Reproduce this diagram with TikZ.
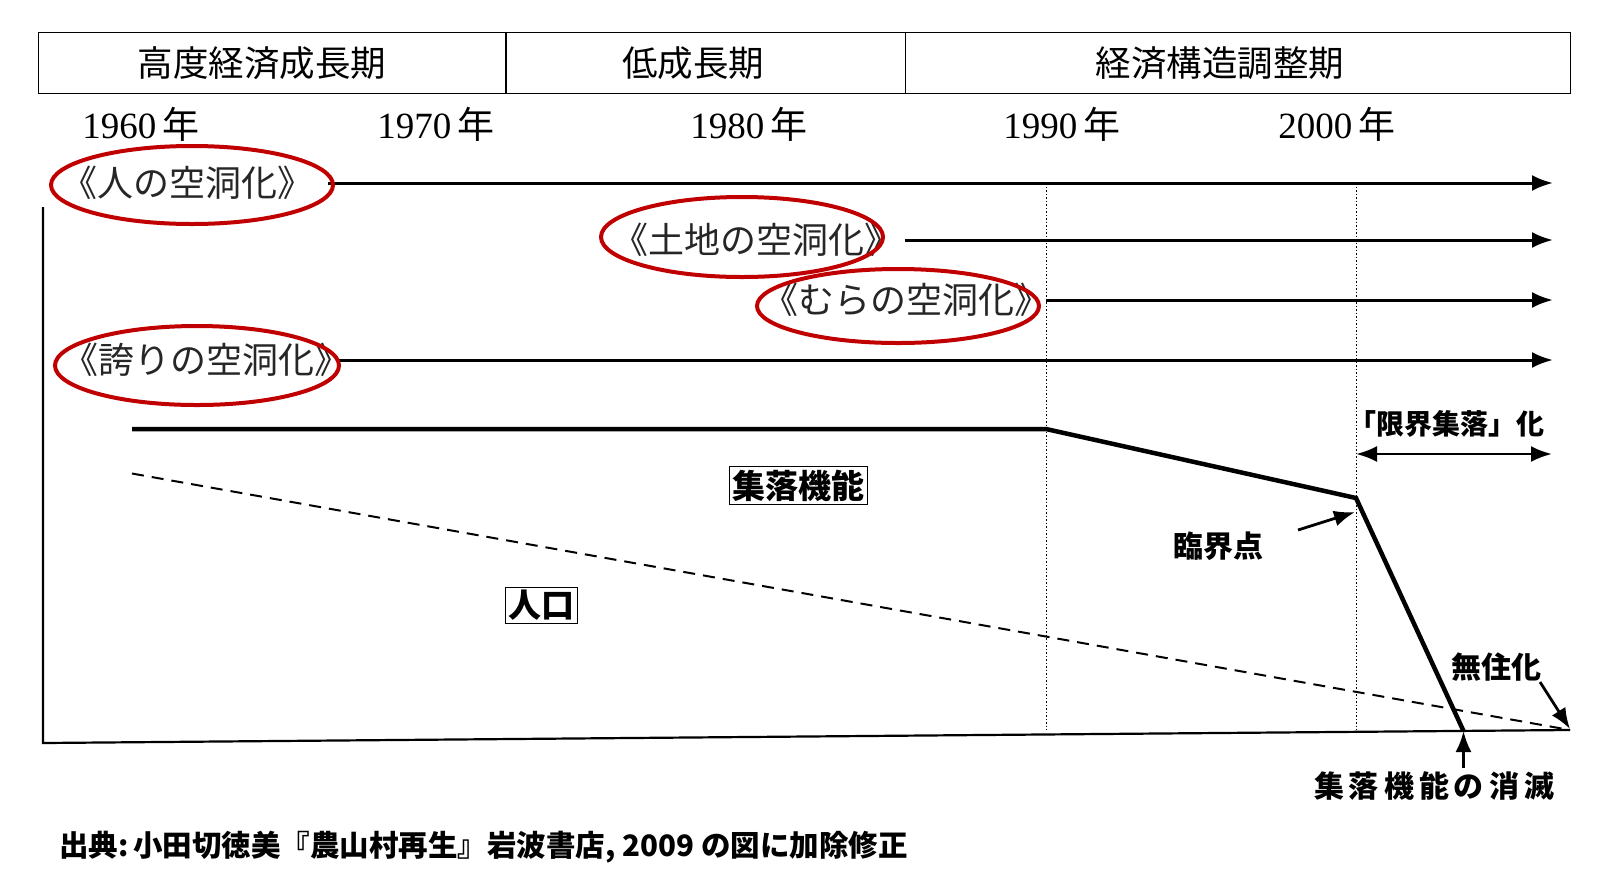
\documentclass[tikz,border=0pt]{standalone}
\usepackage{fontspec}
\newfontfamily\jp{Noto Sans CJK JP}
\newfontfamily\ser{Liberation Serif}
\usetikzlibrary{arrows.meta}
\definecolor{ellred}{HTML}{C00000}
\begin{document}
\begin{tikzpicture}[x=1pt,y=-1pt,
  hdr/.style={font=\jp\fontsize{35.5}{35.5}\selectfont},
  yr/.style={font=\ser\fontsize{37}{37}\selectfont},
  hollow/.style={font=\jp\fontsize{36}{36}\selectfont, text=black!85, inner sep=0pt},
  lbl/.style={font=\jp\bfseries\fontsize{30}{30}\selectfont, inner sep=2pt},
  boxlbl/.style={lbl, font=\jp\bfseries\fontsize{33}{33}\selectfont, draw, line width=1.2pt, inner sep=3pt},
  ell/.style={draw=ellred, line width=4pt},
  rowarr/.style={line width=3pt, -{Latex[length=21pt,width=16pt]}},
  ptr/.style={line width=2.8pt, -{Latex[length=21pt,width=16pt]}},
  dbl/.style={line width=2.8pt, {Latex[length=21pt,width=16pt]}-{Latex[length=21pt,width=16pt]}},
  axis/.style={line width=2.2pt},
  guide/.style={line width=1pt, dash pattern=on 1.5pt off 2pt},
  func/.style={line width=4.5pt, line join=miter},
  pop/.style={line width=2pt, dash pattern=on 12pt off 8pt}
]
\useasboundingbox (0,0) rectangle (1597,895);

% header table
\draw[line width=1.2pt] (38.5,32.5) rectangle (1570.5,93.5);
\draw[line width=1.2pt] (506,32.5) -- (506,93.5);
\draw[line width=1.2pt] (905.5,32.5) -- (905.5,93.5);
\node[hdr] (h1) at (262,63) {高度経済成長期};
\node[hdr] (h2) at (693,63) {低成長期};
\node[hdr] (h3) at (1220,63) {経済構造調整期};

% years
\node[yr] (y60) at (141,124) {1960\,{\jp 年}};
\node[yr] (y70) at (436,124) {1970\,{\jp 年}};
\node[yr] (y80) at (749,124) {1980\,{\jp 年}};
\node[yr] (y90) at (1062,124) {1990\,{\jp 年}};
\node[yr] (y00) at (1337,124) {2000\,{\jp 年}};

% axes
\coordinate (ytop) at (43,207);
\coordinate (orig) at (43,743);
\coordinate (xend) at (1570,730);
\draw[axis] (ytop) -- (orig) -- (xend);

% guide lines
\coordinate (g1t) at (1046,183);
\coordinate (g1b) at (1046,730);
\coordinate (g2t) at (1356,183);
\coordinate (g2b) at (1356,730);
\draw[guide] (g1t) -- (g1b);
\draw[guide] (g2t) -- (g2b);

% rows
\node[hollow] (r1) at (187,183) {《人の空洞化》};
\node[hollow] (r2) at (756,240) {《土地の空洞化》};
\node[hollow] (r3) at (906,300) {《むらの空洞化》};
\node[hollow] (r4) at (206,360) {《誇りの空洞化》};
\coordinate (r1s) at (328,183);   \coordinate (r1e) at (1553,183);
\coordinate (r2s) at (905,240);   \coordinate (r2e) at (1553,240);
\coordinate (r3s) at (1046,300);  \coordinate (r3e) at (1553,300);
\coordinate (r4s) at (339,360);   \coordinate (r4e) at (1553,360);
\draw[rowarr] (r1s) -- (r1e);
\draw[rowarr] (r2s) -- (r2e);
\draw[rowarr] (r3s) -- (r3e);
\draw[rowarr] (r4s) -- (r4e);

% red ellipses
\draw[ell] (192,185) ellipse [x radius=141, y radius=39];
\draw[ell] (742,237) ellipse [x radius=141, y radius=40];
\draw[ell] (898,306) ellipse [x radius=141, y radius=37];
\draw[ell] (197,365.5) ellipse [x radius=142, y radius=39.5];

% settlement function line
\coordinate (f0) at (132,429);
\coordinate (f1) at (1046,429);
\coordinate (f2) at (1356,498);
\coordinate (f3) at (1463.5,731);
\draw[func] (f0) -- (f1) -- (f2) -- (f3);

% population line
\coordinate (p0) at (132,473.5);
\coordinate (p1) at (1570,730);
\draw[pop] (p0) -- (p1);

% labels
\node[boxlbl] (kino) at (798.5,485.5) {集落機能};
\node[boxlbl] (jinko) at (541.5,605.5) {人口};
\node[lbl] (rinkai) at (1218,546) {臨界点};
\node[lbl, font=\jp\bfseries\fontsize{28}{28}\selectfont] (genkai) at (1446,424) {「限界集落」化};
\node[lbl] (mujuu) at (1496,667) {無住化};
\node[lbl] (shometsu) at (1434,786) {集\,落\,機\,能\,の\,消\,滅};

% pointer arrows
\coordinate (rk1) at (1298,530);
\coordinate (rk2) at (1355,512);
\draw[ptr] (rk1) -- (rk2);
\coordinate (ga) at (1356,454);
\coordinate (gb) at (1552,454);
\draw[dbl] (ga) -- (gb);
\coordinate (mj1) at (1540,682);
\coordinate (mj2) at (1570,729);
\draw[ptr] (mj1) -- (mj2);
\coordinate (sm1) at (1463.5,768);
\coordinate (sm2) at (1463.5,731);
\draw[ptr] (sm1) -- (sm2);

% caption
\node[font=\jp\bfseries\fontsize{29.5}{29.5}\selectfont, anchor=west, inner sep=0pt] (src) at (59,847) {出典:\,小田切徳美『農山村再生』岩波書店,\ 2009 の図に加除修正};
\end{tikzpicture}
\end{document}
